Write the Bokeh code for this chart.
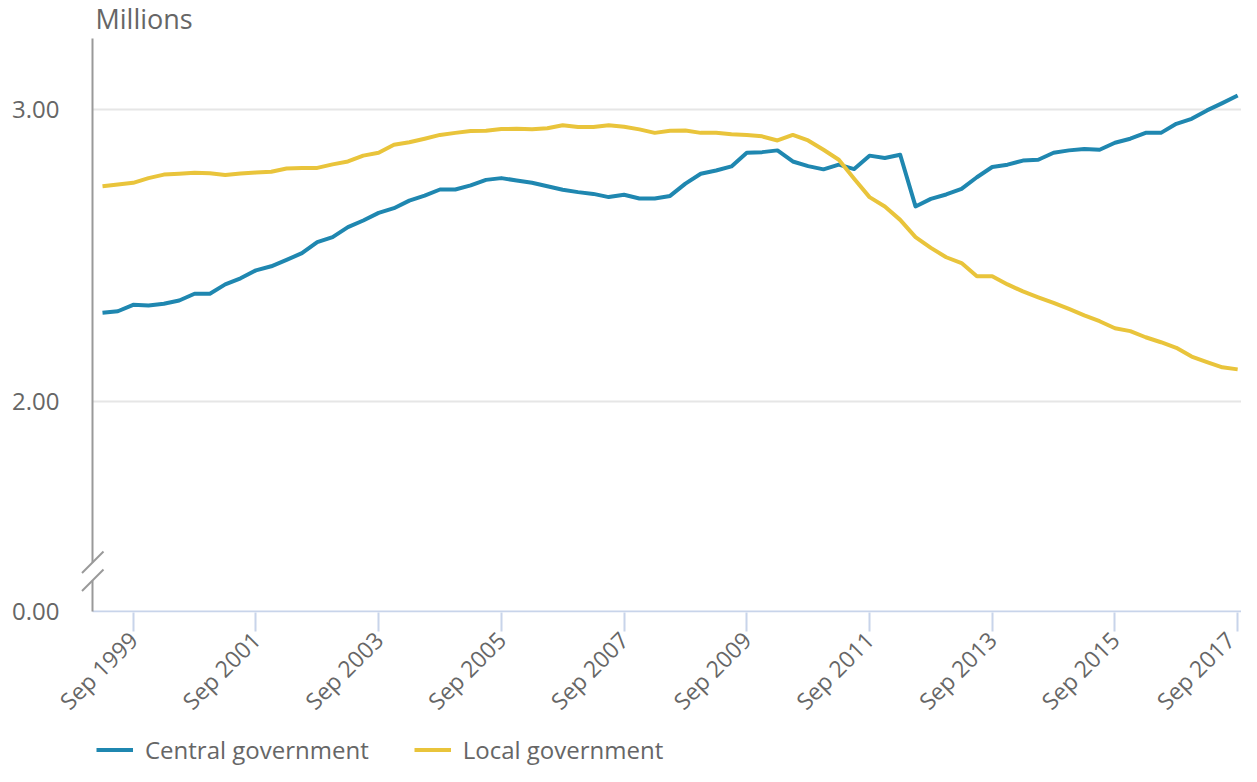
import math
from bokeh.plotting import figure
from bokeh.layouts import column
from bokeh.models import (FixedTicker, CustomJSTickFormatter, Label,
                          Legend, LegendItem, ColumnDataSource, Range1d)
from bokeh.embed import file_html
from bokeh.resources import INLINE

# ---- data -------------------------------------------------------------
quarters = [f"{m} {y}" for y in range(1999, 2018)
            for m in ("Mar", "Jun", "Sep", "Dec")][:75]

central = [2.304, 2.309, 2.331, 2.329, 2.335, 2.346, 2.369, 2.369, 2.401, 2.422,
           2.449, 2.463, 2.485, 2.508, 2.546, 2.563, 2.597, 2.620, 2.646, 2.662,
           2.688, 2.705, 2.726, 2.726, 2.740, 2.759, 2.765, 2.757, 2.749, 2.737,
           2.725, 2.717, 2.711, 2.700, 2.708, 2.695, 2.695, 2.704, 2.746, 2.780,
           2.791, 2.805, 2.852, 2.854, 2.860, 2.822, 2.806, 2.795, 2.811, 2.796,
           2.842, 2.834, 2.845, 2.668, 2.694, 2.709, 2.728, 2.768, 2.803, 2.811,
           2.825, 2.828, 2.852, 2.860, 2.865, 2.862, 2.886, 2.900, 2.920, 2.920,
           2.951, 2.968, 2.997, 3.022, 3.048]

local = [2.737, 2.743, 2.749, 2.765, 2.777, 2.780, 2.783, 2.782, 2.776, 2.781,
         2.784, 2.787, 2.798, 2.800, 2.800, 2.812, 2.822, 2.842, 2.852, 2.879,
         2.888, 2.900, 2.913, 2.920, 2.926, 2.927, 2.933, 2.934, 2.932, 2.936,
         2.946, 2.940, 2.940, 2.946, 2.941, 2.932, 2.920, 2.927, 2.928, 2.920,
         2.920, 2.915, 2.913, 2.908, 2.894, 2.913, 2.894, 2.862, 2.828, 2.763,
         2.700, 2.668, 2.622, 2.563, 2.526, 2.494, 2.474, 2.429, 2.429, 2.401,
         2.377, 2.357, 2.338, 2.317, 2.295, 2.275, 2.251, 2.241, 2.220, 2.203,
         2.184, 2.154, 2.135, 2.117, 2.110]

series_names = ["Central government", "Local government"]
y_ticks = [2.0, 3.0]
axis_title = "Millions"

# ---- styling -----------------------------------------------------------
FONT = "Open Sans"
TEXT = "#666666"
BLUE = "#1f87b0"
YELLOW = "#e9c43b"
XAXIS = "#c8d4ea"
YAXIS = "#999999"
GRID = "#e6e6e6"

W = 1241
H_MAIN, H_LEG = 732, 34
FL, FT, FB = 80, 0, 612            # frame left / top / bottom (px)
FR = W
PX_X = 15.34                       # px per quarter
X_AX = -0.652                      # data x of the drawn y axis
X0 = X_AX - (92 - FL) / PX_X
X1 = X_AX + (FR - 92) / PX_X
PX_Y = 292.0                       # px per million
Y1 = 3.0 + (109 - FT) / PX_Y
Y0 = Y1 - (FB - FT) / PX_Y
Y_BOT = Y0 + 1.0 / PX_Y            # broken baseline labelled "0.00"
Y_TOP = 3.0 + (109 - 38) / PX_Y    # top of the drawn y axis

def dy(px):
    return px / PX_Y

def dx(px):
    return px / PX_X

x = list(range(len(quarters)))
src = ColumnDataSource(dict(x=x, central=central, local=local, q=quarters))

p = figure(width=W, height=H_MAIN, output_backend="svg", toolbar_location=None,
           x_range=Range1d(X0, X1), y_range=Range1d(Y0, Y1),
           min_border_left=FL, min_border_right=0, min_border_top=FT,
           min_border_bottom=H_MAIN - FB, outline_line_color=None)
p.background_fill_color = "white"
p.border_fill_color = "white"
p.xgrid.grid_line_color = None
p.ygrid.grid_line_color = None

# gridlines (start at the y axis)
p.segment(x0=[X_AX] * len(y_ticks), y0=y_ticks, x1=[X1] * len(y_ticks),
          y1=y_ticks, line_color=GRID, line_width=2)

# x axis line
p.segment(x0=[X_AX], y0=[Y_BOT], x1=[X1], y1=[Y_BOT], line_color=XAXIS,
          line_width=2)

# y axis line with a break near the bottom
gap_top = Y_BOT + dy(49)
gap_bot = Y_BOT + dy(31)
segs = [(X_AX, Y_TOP, X_AX, gap_top),
        (X_AX, gap_bot, X_AX, Y_BOT),
        (X_AX - dx(10.5), gap_top - dy(10.5), X_AX + dx(11), gap_top + dy(11)),
        (X_AX - dx(10.5), gap_bot - dy(10.5), X_AX + dx(11), gap_bot + dy(11))]
p.segment(x0=[s[0] for s in segs], y0=[s[1] for s in segs],
          x1=[s[2] for s in segs], y1=[s[3] for s in segs],
          line_color=YAXIS, line_width=2)

p.line("x", "central", source=src, line_color=BLUE, line_width=4,
       line_join="round")
p.line("x", "local", source=src, line_color=YELLOW, line_width=4,
       line_join="round")

# x axis (ticks + labels)
xt = list(range(2, len(quarters), 8))
p.xaxis.ticker = FixedTicker(ticks=xt)
p.xaxis.major_label_overrides = {i: quarters[i] for i in xt}
p.xaxis.major_label_orientation = math.pi / 4
p.xaxis.axis_line_color = None
p.xaxis.major_tick_line_color = XAXIS
p.xaxis.major_tick_line_width = 2
p.xaxis.major_tick_out = 19
p.xaxis.major_tick_in = 0
p.xaxis.minor_tick_line_color = None
p.xaxis.major_label_text_font = FONT
p.xaxis.major_label_text_font_size = "23px"
p.xaxis.major_label_text_color = TEXT
p.xaxis.major_label_standoff = 4

# y axis (labels only)
p.yaxis.ticker = FixedTicker(ticks=[Y_BOT] + y_ticks)
p.yaxis.formatter = CustomJSTickFormatter(
    code="return tick < 1.5 ? '0.00' : tick.toFixed(2);")
p.yaxis.axis_line_color = None
p.yaxis.major_tick_line_color = None
p.yaxis.minor_tick_line_color = None
p.yaxis.major_tick_out = 0
p.yaxis.major_tick_in = 0
p.yaxis.major_label_standoff = 21
p.yaxis.major_label_text_font = FONT
p.yaxis.major_label_text_font_size = "24px"
p.yaxis.major_label_text_color = TEXT

# "Millions" label
p.add_layout(Label(x=X_AX + dx(3), y=3.0 + dy(109 - 18), text=axis_title,
                   text_font=FONT, text_font_size="27px", text_color=TEXT,
                   text_baseline="alphabetic"))

# ---- legend strip ------------------------------------------------------
pl = figure(width=W, height=H_LEG, output_backend="svg", toolbar_location=None,
            x_range=Range1d(0, 1), y_range=Range1d(0, 1), min_border=0,
            outline_line_color=None, x_axis_type=None, y_axis_type=None)
pl.xgrid.grid_line_color = None
pl.ygrid.grid_line_color = None
# the series again, outside this strip's ranges: only their legend shows
lc = pl.line(x, central, line_color=BLUE, line_width=4)
ll = pl.line(x, local, line_color=YELLOW, line_width=4)

legend = Legend(items=[LegendItem(label=series_names[0], renderers=[lc]),
                       LegendItem(label=series_names[1], renderers=[ll])],
                orientation="horizontal", location="left",
                border_line_color=None, background_fill_alpha=0,
                padding=0, margin=16, spacing=45, label_standoff=12,
                glyph_width=37, glyph_height=20, label_height=20,
                label_text_font=FONT, label_text_font_size="24px",
                label_text_color=TEXT)
pl.add_layout(legend, "center")

open("out.html", "w").write(file_html(column(p, pl, spacing=0), INLINE))
